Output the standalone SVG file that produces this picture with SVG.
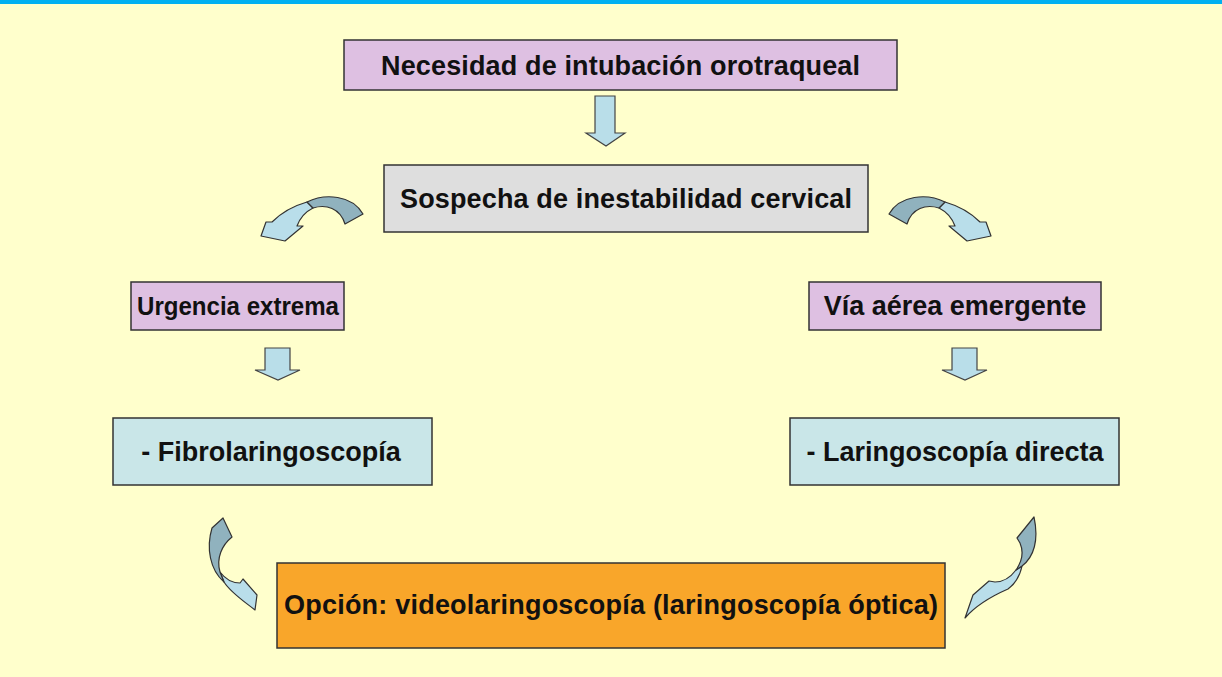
<svg xmlns="http://www.w3.org/2000/svg" width="1222" height="677" viewBox="0 0 1222 677">
<style>
.box{stroke:#333;stroke-width:1.5}
.pur{fill:#DEC0E2}
.gry{fill:#DEDEDE}
.cyn{fill:#C9E6E8}
.org{fill:#F9A62A}
.t{font-family:"Liberation Sans",Arial,sans-serif;font-weight:bold;font-size:27px;fill:#111;text-anchor:middle}
.arr{fill:#B9DEE9;stroke:#444;stroke-width:1.2;stroke-linejoin:miter}
.dk{fill:#90B2BE;stroke:#333;stroke-width:1.2;stroke-linejoin:round}
.lt{fill:#B9DEEA;stroke:#333;stroke-width:1.2;stroke-linejoin:round}
</style>
<rect x="0" y="0" width="1222" height="677" fill="#FFFFCC"/>
<rect x="0" y="0" width="1222" height="4" fill="#00B0F0"/>

<g id="n1"><rect class="box pur" x="344" y="40" width="553" height="50"/><text class="t" x="620.5" y="74.5" textLength="479" lengthAdjust="spacing">Necesidad de intubación orotraqueal</text></g>
<g id="n2"><rect class="box gry" x="384" y="165" width="484" height="67"/><text class="t" x="626" y="208" textLength="452" lengthAdjust="spacing">Sospecha de inestabilidad  cervical</text></g>
<g id="n3"><rect class="box pur" x="131" y="282" width="213" height="48"/><text class="t" x="238" y="315" textLength="202" lengthAdjust="spacingAndGlyphs" style="font-size:25px">Urgencia extrema</text></g>
<g id="n4"><rect class="box pur" x="809" y="282" width="292" height="48"/><text class="t" x="955" y="315">Vía aérea emergente</text></g>
<g id="n5"><rect class="box cyn" x="113" y="418" width="319" height="67"/><text class="t" x="271" y="461">- Fibrolaringoscopía</text></g>
<g id="n6"><rect class="box cyn" x="790" y="418" width="329" height="67"/><text class="t" x="955" y="461">- Laringoscopía directa</text></g>
<g id="n7"><rect class="box org" x="277" y="563" width="668" height="85"/><text class="t" x="611" y="614" textLength="654" lengthAdjust="spacing">Opción: videolaringoscopía (laringoscopía óptica)</text></g>

<g id="connectors">
<path class="arr" d="M595,96 H615 V133 H625 L606,146 L586,133 H595 Z"/>
<path class="arr" d="M265,348 H290 V370 H300 L278,380 L255,370 H265 Z"/>
<path class="arr" d="M952,348 H977 V370 H987 L965,380 L942,370 H952 Z"/>
<g id="c-left">
<path class="lt" d="M307,202 C293,206 280,214 272,222 L266,222 L261,236 L285,241 L303,226 L297,226 C300,218 305,212 313,208 Z"/>
<path class="dk" d="M307,202 C325,193 352,195 363,214 L345,224 C340,208 326,204 313,208 Z"/>
</g>
<g id="c-right" transform="translate(1252,0) scale(-1,1)">
<path class="lt" d="M307,202 C293,206 280,214 272,222 L266,222 L261,236 L285,241 L303,226 L297,226 C300,218 305,212 313,208 Z"/>
<path class="dk" d="M307,202 C325,193 352,195 363,214 L345,224 C340,208 326,204 313,208 Z"/>
</g>
<g id="c-bl">
<path class="lt" d="M220,572 C226,580 233,583 240,583 L243,579 L257,595 L255,610 C245,602 231,593 224,582 Z"/>
<path class="dk" d="M212,528 L223,518 L232,537 C222,545 216,558 220,572 L224,582 C210,570 206,548 212,528 Z"/>
</g>
<g id="c-br">
<path class="lt" d="M1016,570 C1010,578 1002,582 995,582 L989,581 L973,595 L965,618 C977,604 992,596 1008,589 C1016,583 1020,576 1022,566 Z"/>
<path class="dk" d="M1017,538 L1034,517 C1039,540 1034,557 1022,566 L1016,570 C1023,560 1023,550 1020,543 Z"/>
</g>
</g>
</svg>
